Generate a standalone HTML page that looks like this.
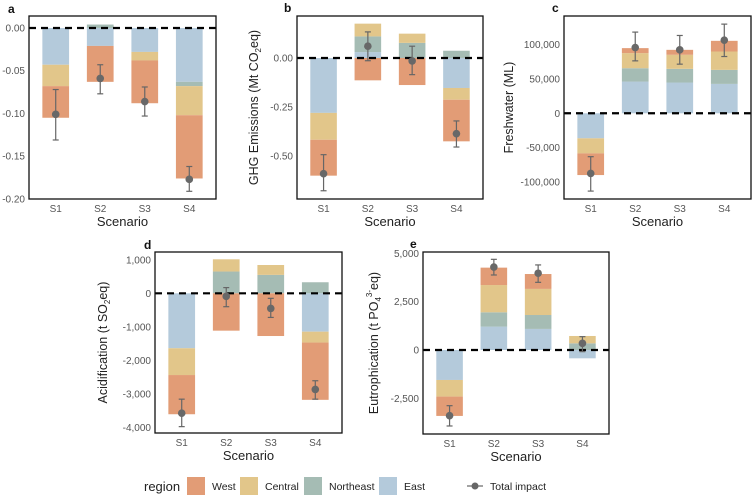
<!DOCTYPE html>
<html><head><meta charset="utf-8">
<style>
html,body{margin:0;padding:0;background:#fff;}
svg{display:block;font-family:"Liberation Sans",sans-serif;}
</style></head>
<body>
<svg id="chart" width="753" height="496" viewBox="0 0 753 496" xmlns="http://www.w3.org/2000/svg"></svg>
<script>
const scenarios=['S1','S2','S3','S4'];
const regions=['West','Central','Northeast','East'];
const regionColors={West:'#e29c76',Central:'#e2c68a',Northeast:'#a5bcb4',East:'#b4cadb'};

// Panel a: GHG (first)
const aWest=[-0.037,-0.042,-0.050,-0.074];
const aCentral=[-0.025,0,-0.010,-0.034];
const aNortheast=[0,0.004,0,-0.005];
const aEast=[-0.043,-0.021,-0.028,-0.063];
const aTotal=[-0.101,-0.059,-0.086,-0.177];
const aLow=[-0.131,-0.077,-0.103,-0.191];
const aHigh=[-0.072,-0.043,-0.069,-0.162];
const aTicks=[0,-0.05,-0.10,-0.15,-0.20];
const aTickLabels=['0.00','-0.05','-0.10','-0.15','-0.20'];

// Panel b: GHG
const bWest=[-0.183,-0.114,-0.138,-0.212];
const bCentral=[-0.137,0.065,0.047,-0.060];
const bNortheast=[0,0.080,0.077,0.037];
const bEast=[-0.280,0.030,0,-0.153];
const bTotal=[-0.59,0.06,-0.015,-0.386];
const bLow=[-0.677,-0.014,-0.085,-0.454];
const bHigh=[-0.493,0.133,0.06,-0.321];
const bTicks=[0,-0.25,-0.5];
const bTickLabels=['0.00','-0.25','-0.50'];

// Panel c: Freshwater
const cWest=[-31500,7300,7200,15500];
const cCentral=[-21900,21900,20400,26700];
const cNortheast=[0,19400,19900,20400];
const cEast=[-36400,46100,44700,42700];
const cTotal=[-87400,95600,92200,106300];
const cLow=[-113100,76200,71400,82500];
const cHigh=[-63100,118000,113100,129600];
const cTicks=[100000,50000,0,-50000,-100000];
const cTickLabels=['100,000','50,000','0','-50,000','-100,000'];

// Panel d: Acidification
const dWest=[-1170,-1115,-1275,-1710];
const dCentral=[-800,365,295,-325];
const dNortheast=[0,650,550,330];
const dEast=[-1640,0,0,-1145];
const dTotal=[-3580,-90,-450,-2870];
const dLow=[-3980,-400,-720,-3160];
const dHigh=[-3160,170,-150,-2610];
const dTicks=[1000,0,-1000,-2000,-3000,-4000];
const dTickLabels=['1,000','0','-1,000','-2,000','-3,000','-4,000'];

// Panel e: Eutrophication
const eWest=[-1000,900,770,0];
const eCentral=[-860,1410,1350,380];
const eNortheast=[0,740,720,345];
const eEast=[-1550,1210,1090,-430];
const eTotal=[-3400,4290,3970,345];
const eLow=[-3930,3880,3500,-85];
const eHigh=[-2880,4690,4400,690];
const eTicks=[5000,2500,0,-2500];
const eTickLabels=['5,000','2,500','0','-2,500'];

const NS='http://www.w3.org/2000/svg';
const svg=document.getElementById('chart');
function mk(tag,attrs,parent){const e=document.createElementNS(NS,tag);for(const k in attrs)e.setAttribute(k,attrs[k]);(parent||svg).appendChild(e);return e;}

const panels=[
 {id:'a',x0:29,x1:216,y0:16,y1:199,vTop:0.014,vBot:-0.2,W:aWest,C:aCentral,N:aNortheast,E:aEast,T:aTotal,L:aLow,H:aHigh,ticks:aTicks,labels:aTickLabels,letter:[8,13],title:null},
 {id:'b',x0:297,x1:483,y0:16,y1:199,vTop:0.214,vBot:-0.719,W:bWest,C:bCentral,N:bNortheast,E:bEast,T:bTotal,L:bLow,H:bHigh,ticks:bTicks,labels:bTickLabels,letter:[284,12],title:'ghg',tx:258},
 {id:'c',x0:564,x1:751,y0:16,y1:199,vTop:141400,vBot:-124600,W:cWest,C:cCentral,N:cNortheast,E:cEast,T:cTotal,L:cLow,H:cHigh,ticks:cTicks,labels:cTickLabels,letter:[552,12],title:'Freshwater (ML)',tx:513},
 {id:'d',x0:155,x1:342,y0:252,y1:433,vTop:1233,vBot:-4170,W:dWest,C:dCentral,N:dNortheast,E:dEast,T:dTotal,L:dLow,H:dHigh,ticks:dTicks,labels:dTickLabels,letter:[144,249],title:'acid',tx:107},
 {id:'e',x0:423,x1:609,y0:252,y1:434,vTop:5069,vBot:-4345,W:eWest,C:eCentral,N:eNortheast,E:eEast,T:eTotal,L:eLow,H:eHigh,ticks:eTicks,labels:eTickLabels,letter:[410,248],title:'eutro',tx:378}
];

panels.forEach(p=>{
 const g=mk('g',{});
 
 
 const y=v=>p.y0+(p.vTop-v)/(p.vTop-p.vBot)*(p.y1-p.y0);
 const step=(p.x1-p.x0)/4.2;
 const cx=i=>p.x0+step*(0.6+i);
 const bw=step*0.6;
 const order=[['East',p.E],['Northeast',p.N],['Central',p.C],['West',p.W]];
 scenarios.forEach((s,i)=>{
  let pos=0,neg=0;
  order.forEach(([r,arr])=>{
   const v=arr[i]; if(!v) return;
   let a,b; if(v>0){a=pos;b=pos+v;pos=b;}else{a=neg;b=neg+v;neg=b;}
   const r1=mk('rect',{x:cx(i)-bw/2,y:Math.min(y(a),y(b)),width:bw,height:Math.abs(y(a)-y(b)),fill:regionColors[r]},g);
   
   
  });
 });
 const zl=mk('line',{x1:p.x0,x2:p.x1,y1:y(0),y2:y(0),stroke:'#000','stroke-width':2.2,'stroke-dasharray':'7,5'},g);
 
 
 scenarios.forEach((s,i)=>{
  const eg=mk('g',{stroke:'#666','stroke-width':1.2},g);
  
  
  mk('line',{x1:cx(i),x2:cx(i),y1:y(p.L[i]),y2:y(p.H[i])},eg);
  mk('line',{x1:cx(i)-3,x2:cx(i)+3,y1:y(p.L[i]),y2:y(p.L[i])},eg);
  mk('line',{x1:cx(i)-3,x2:cx(i)+3,y1:y(p.H[i]),y2:y(p.H[i])},eg);
  const pt=mk('circle',{cx:cx(i),cy:y(p.T[i]),r:3.8,fill:'#686868'},g);
  
  
  const tl=mk('text',{x:cx(i),y:p.y1+13,'text-anchor':'middle','font-size':10,fill:'#555'},g);
  tl.textContent=s;
  
  
 });
 const fr=mk('rect',{x:p.x0,y:p.y0,width:p.x1-p.x0,height:p.y1-p.y0,fill:'none',stroke:'#111','stroke-width':1.3},g);
 
 
 p.ticks.forEach((t,k)=>{
  const tx=mk('text',{x:p.x0-4,y:y(t)+3.5,'text-anchor':'end','font-size':10,fill:'#555'},g);
  tx.textContent=p.labels[k];
  
  
 });
 const xt=mk('text',{x:(p.x0+p.x1)/2,y:p.y1+27,'text-anchor':'middle','font-size':13,fill:'#222'},g);
 xt.textContent='Scenario';
 
 
 const lt=mk('text',{x:p.letter[0],y:p.letter[1],'font-size':12,'font-weight':'bold',fill:'#111'},g);
 lt.textContent=p.id;
 
 
 if(p.title){
  const cy=(p.y0+p.y1)/2;
  const yt=mk('text',{x:p.tx,y:cy,'text-anchor':'middle','font-size':12.5,fill:'#222',transform:'rotate(-90 '+p.tx+' '+cy+')'},g);
  
  
  if(p.title==='ghg'){yt.innerHTML='GHG Emissions (Mt CO<tspan font-size="8" dy="3">2</tspan><tspan dy="-3">eq)</tspan>';}
  else if(p.title==='acid'){yt.innerHTML='Acidification (t SO<tspan font-size="8" dy="3">2</tspan><tspan dy="-3">eq)</tspan>';}
  else if(p.title==='eutro'){yt.innerHTML='Eutrophication (t PO<tspan font-size="8" dy="3">4</tspan><tspan font-size="8" dy="-9">3-</tspan><tspan dy="6">eq)</tspan>';}
  else yt.textContent=p.title;
 }
});

const lg=mk('g',{});


const lt=mk('text',{x:144,y:491,'font-size':13,fill:'#222'},lg);
lt.textContent='region';


const lpos=[[187,'West'],[240,'Central'],[304,'Northeast'],[379,'East']];
lpos.forEach(([x,r])=>{
 const e=mk('g',{},lg);
 
 
 mk('rect',{x:x,y:477,width:18,height:18,fill:regionColors[r]},e);
 const t=mk('text',{x:x+25,y:490,'font-size':10.5,fill:'#222'},e);
 t.textContent=r;
});
const te=mk('g',{},lg);


mk('line',{x1:467,x2:483,y1:486,y2:486,stroke:'#666','stroke-width':1.2},te);
mk('circle',{cx:475,cy:486,r:3.5,fill:'#666'},te);
const tt=mk('text',{x:490,y:490,'font-size':10.5,fill:'#222'},te);
tt.textContent='Total impact';
</script>
</body></html>
